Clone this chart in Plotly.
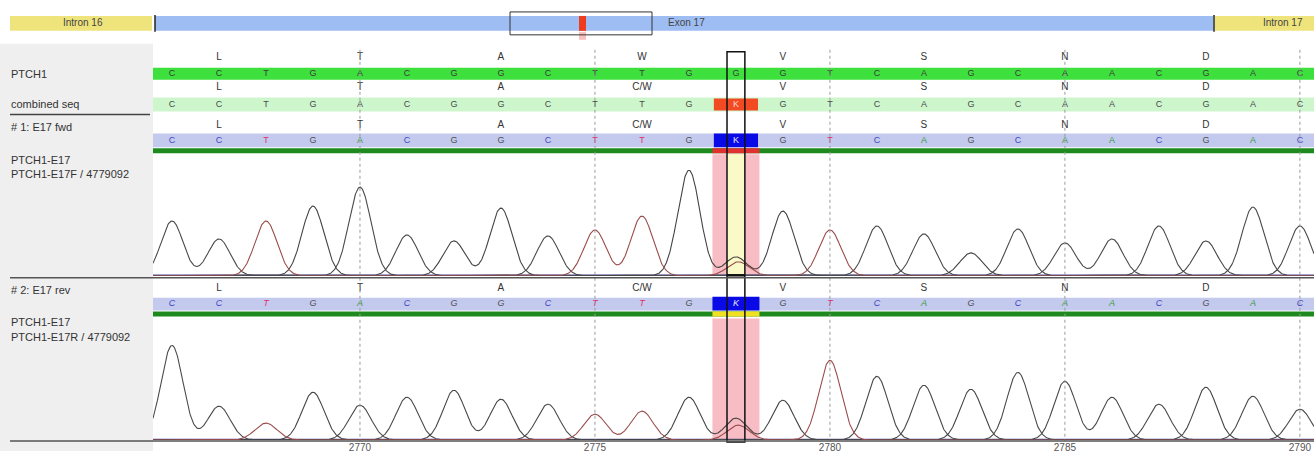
import numpy as np
import plotly.graph_objects as go

# ---------------- data ----------------
positions = list(range(2766, 2791))
ref_seq = list("CCTGACGGCTTGGGTCAGCAACGAC")
combined_seq = list("CCTGACGGCTTGKGTCAGCAACGAC")
fwd_seq = list("CCTGACGGCTTGKGTCAGCAACGAC")
rev_seq = list("CCTGACGGCTTGKGTCAGCAACGAC")
aa_pos = [2767, 2770, 2773, 2776, 2779, 2782, 2785, 2788]
aa_ref = ["L", "T", "A", "W", "V", "S", "N", "D"]
aa_mix = ["L", "T", "A", "C/W", "V", "S", "N", "D"]
# primary peak heights (trace units) per position
fwd_peaks = [55, 37, 55, 70, 89, 41, 35, 68, 40, 46, 60, 106, 19, 65, 46, 50, 42, 23, 47, 33, 37, 50, 35, 69, 50]
rev_peaks = [95, 34, 17, 48, 35, 43, 50, 41, 36, 26, 29, 43, 22, 40, 80, 64, 55, 51, 68, 59, 43, 36, 53, 44, 31]
het_pos = 2778
het_primary = "G"
het_secondary = "T"
fwd_het_secondary = 14
rev_het_secondary = 15
tick_vals = [2770, 2775, 2780, 2785, 2790]
features = ["Intron 16", "Exon 17", "Intron 17"]

# ---------------- layout constants ----------------
W, H = 1314, 453
FONT = "Liberation Sans"
x0, x1 = 2765.596, 2790.30
PX = lambda p: p / W  # paper fraction from pixel

base_col = {"A": "#3c9a3c", "C": "#4646c0", "G": "#505050", "T": "#e0306a", "K": "#e8e8ff"}
trace_col = {"A": "#4a4a4a", "C": "#4a4a4a", "G": "#444444", "T": "#9a4c4c"}

fig = go.Figure()

shapes = []
def rect(xr, yr, xa, xb, ya, yb, fill, layer="below", line=None):
    d = dict(type="rect", xref=xr, yref=yr, x0=xa, x1=xb, y0=ya, y1=yb,
             fillcolor=fill, layer=layer, line=dict(width=0))
    if line:
        d["line"] = line
    shapes.append(d)

def hline(xa, xb, y, color, width=1.5, xr="paper"):
    shapes.append(dict(type="line", xref=xr, yref="y3", x0=xa, x1=xb, y0=y, y1=y,
                       line=dict(color=color, width=width), layer="above"))

# left label panel
rect("paper", "y3", 0, PX(153), 44, 453, "#efefef")
# gene overview bar
rect("paper", "y3", PX(10), PX(152), 16, 31, "#efe37c")
rect("paper", "y3", PX(155), PX(1213), 16, 31, "#9ebdf2")
rect("paper", "y3", PX(1215), 1, 16, 31, "#efe37c")
for xp in (155, 1214):
    shapes.append(dict(type="line", xref="paper", yref="y3", x0=PX(xp), x1=PX(xp), y0=15, y1=32,
                       line=dict(color="#222", width=1.5), layer="above"))
rect("paper", "y3", PX(579), PX(586), 16, 31, "#f03c1e", layer="above")
rect("paper", "y3", PX(579), PX(586), 32, 40, "#f9c0c0", layer="above")
rect("paper", "y3", PX(510), PX(652), 12, 35, "rgba(0,0,0,0)", layer="above",
     line=dict(color="#333", width=1))

# sequence bars
rect("paper", "y3", PX(153), 1, 68, 80, "#3ee03e")
rect("paper", "y3", PX(153), 1, 98, 112, "#cdf6cd")
rect("paper", "y3", PX(153), 1, 134, 148, "#c3caee")
rect("paper", "y3", PX(153), 1, 149, 154, "#1e8a1e")
rect("paper", "y3", PX(153), 1, 299, 312, "#c3caee")
rect("paper", "y3", PX(153), 1, 313, 318, "#1e8a1e")

# heterozygous position highlight
rect("x", "y3", het_pos - 0.47, het_pos + 0.47, 99, 111, "#f24a22")
rect("x", "y3", het_pos - 0.47, het_pos + 0.47, 134, 148, "#0a0ae6")
rect("x", "y3", het_pos - 0.5, het_pos + 0.5, 149, 154, "#e03030")
rect("x", "y3", het_pos - 0.5, het_pos + 0.5, 298, 312, "#0a0ae6")
rect("x", "y3", het_pos - 0.5, het_pos + 0.5, 313, 318, "#f0e020")
# highlight behind the traces (drawn in the trace subplots)
rect("x", "y2", het_pos - 0.5, het_pos + 0.5, 0, 123, "#f8bcc4")
rect("x", "y2", het_pos - 0.19, het_pos + 0.19, 0, 123, "#fafac8")
rect("x", "y", het_pos - 0.5, het_pos + 0.5, 0, 124, "#f8bcc4")

# dotted guide lines
for v in tick_vals:
    shapes.append(dict(type="line", xref="x", yref="y3", x0=v, x1=v, y0=50, y1=443,
                       line=dict(color="#9a9a9a", width=1, dash="dot"), layer="above"))

# black selection column
shapes.append(dict(type="rect", xref="x", yref="y3", x0=het_pos - 0.19, x1=het_pos + 0.19,
                   y0=52, y1=444, line=dict(color="#111", width=1.5), fillcolor="rgba(0,0,0,0)",
                   layer="above"))
hline(het_pos - 0.19, het_pos + 0.19, 276.5, "#111", width=2.5, xr="x")

# separators
hline(PX(10), PX(150), 115, "#444", 1.5)
hline(PX(10), 1, 279, "#555", 1.5)
hline(PX(10), 1, 443, "#555", 1.5)

# ---------------- text rows ----------------
def text_row(xs, labels, y, colors, size=10, italic=False):
    fig.add_trace(go.Scatter(
        x=xs, y=[y] * len(xs), mode="text", text=labels,
        textfont=dict(family=FONT, size=size, color=colors,
                      style="italic" if italic else "normal"),
        xaxis="x", yaxis="y3", hoverinfo="skip", cliponaxis=False))

text_row(aa_pos, aa_ref, 58, "#333")
text_row(positions, ref_seq, 74, "#3a3a3a", size=9)
text_row(aa_pos, aa_mix, 88, "#333")
text_row(positions, combined_seq, 105, ["#ffd8c8" if b == "K" else "#4a4a4a" for b in combined_seq], size=9)
text_row(aa_pos, aa_mix, 126, "#333")
text_row(positions, fwd_seq, 141, [base_col[b] for b in fwd_seq], size=9)
text_row(aa_pos, aa_mix, 290, "#333")
text_row(positions, rev_seq, 305, [base_col[b] for b in rev_seq], size=9, italic=True)

# ---------------- chromatogram traces ----------------
xs = np.linspace(x0, x1, 2400)
sigma = 0.235

def draw_trace(seq, heights, het_h, yaxis):
    fig.add_trace(go.Scatter(x=[x0, x1], y=[0.6, 0.6], mode="lines",
                             line=dict(color="#4a4aa8", width=1.5),
                             xaxis="x", yaxis=yaxis, hoverinfo="skip"))
    for ch in ["A", "C", "G", "T"]:
        y = np.zeros_like(xs)
        for p, b, h in zip(positions, seq, heights):
            call = het_primary if b == "K" else b
            if call == ch:
                y += h * np.exp(-(xs - p) ** 2 / (2 * sigma ** 2))
        if ch == het_secondary:
            y += het_h * np.exp(-(xs - het_pos - 0.05) ** 2 / (2 * sigma ** 2))
        fig.add_trace(go.Scatter(x=xs, y=y, mode="lines",
                                 line=dict(color=trace_col[ch], width=1.1),
                                 xaxis="x", yaxis=yaxis, hoverinfo="skip"))

draw_trace(fwd_seq, fwd_peaks, fwd_het_secondary, "y2")
draw_trace(rev_seq, rev_peaks, rev_het_secondary, "y")

# ---------------- annotations ----------------
ann = []
def label(x, y, t, size=11, anchor="left", color="#333"):
    ann.append(dict(xref="paper", yref="y3", x=x, y=y, text=t, showarrow=False,
                    xanchor=anchor, yanchor="middle",
                    font=dict(family=FONT, size=size, color=color)))

label(PX(83), 23, features[0], size=10, anchor="center", color="#444")
label(PX(686), 23, features[1], size=10, anchor="center", color="#444")
label(PX(1283), 23, features[2], size=10, anchor="center", color="#444")
label(PX(9), 74, "PTCH1")
label(PX(9), 104, "combined seq")
label(PX(9), 128, "# 1: E17 fwd")
label(PX(9), 161, "PTCH1-E17")
label(PX(9), 175, "PTCH1-E17F / 4779092")
label(PX(9), 291, "# 2: E17 rev")
label(PX(9), 323, "PTCH1-E17")
label(PX(9), 338, "PTCH1-E17R / 4779092")

fig.update_layout(
    width=W, height=H, margin=dict(l=0, r=0, t=0, b=0),
    paper_bgcolor="white", plot_bgcolor="rgba(0,0,0,0)", showlegend=False,
    shapes=shapes, annotations=ann,
    xaxis=dict(domain=[PX(153), 1], range=[x0, x1], anchor="y", tickvals=tick_vals,
               ticks="", showgrid=False, zeroline=False, showline=False,
               tickfont=dict(family=FONT, size=10, color="#555")),
    yaxis=dict(domain=[11 / H, 133 / H], range=[0, 122], visible=False, anchor="x"),
    yaxis2=dict(domain=[176 / H, 298 / H], range=[0, 122], visible=False, anchor="x"),
    yaxis3=dict(domain=[0, 1], range=[H, 0], visible=False, anchor="x"),
)

fig.write_html("out.html", config={"displayModeBar": False},
               post_script="document.body.style.margin='0';document.body.style.padding='0';")
